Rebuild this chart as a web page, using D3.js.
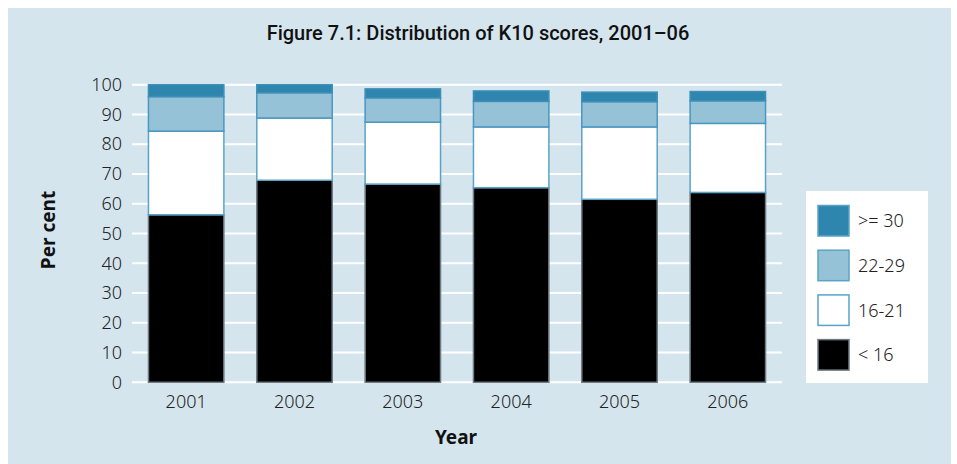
<!DOCTYPE html>
<html>
<head>
<meta charset="utf-8">
<script src="https://cdn.jsdelivr.net/npm/d3@7"></script>
<style>
  html, body { margin: 0; padding: 0; background: #ffffff; }
  svg { display: block; }
</style>
</head>
<body>
<svg id="chart" width="957" height="464"></svg>
<script>
// K10 score distribution by survey year (per cent of respondents)
const years = ["2001", "2002", "2003", "2004", "2005", "2006"];
const bandKeys = ["lt16", "s16to21", "s22to29", "ge30"];
const bandLabels = ["< 16", "16-21", "22-29", ">= 30"];
const lt16 = [56.3, 67.9, 66.6, 65.4, 61.5, 63.8];
const s16to21 = [28.1, 20.9, 20.8, 20.4, 24.3, 23.2];
const s22to29 = [11.6, 8.5, 8.2, 8.6, 8.5, 7.6];
const ge30 = [4.0, 2.7, 3.0, 3.5, 3.2, 3.1];
const yTicks = [0, 10, 20, 30, 40, 50, 60, 70, 80, 90, 100];

const fills = { lt16: "#000000", s16to21: "#ffffff", s22to29: "#96c2d7", ge30: "#2e86ae" };
const strokes = { lt16: "#6f7b82", s16to21: "#5aa3c8", s22to29: "#4a97c0", ge30: "#3d8fb8" };

const rows = years.map((y, i) => ({
  year: y, lt16: lt16[i], s16to21: s16to21[i], s22to29: s22to29[i], ge30: ge30[i]
}));

const svg = d3.select("#chart");
const bodyFont = "'Noto Sans', 'Open Sans', sans-serif";

// panel background
svg.append("rect").attr("x", 8).attr("y", 8).attr("width", 943).attr("height", 456)
  .attr("fill", "#d5e5ee");

svg.append("text")
  .attr("x", 478).attr("y", 40)
  .attr("text-anchor", "middle")
  .attr("font-family", "'Liberation Sans Narrow', 'Roboto', sans-serif")
  .attr("font-size", 20).attr("font-weight", 500)
  .attr("fill", "#111")
  .text("Figure 7.1: Distribution of K10 scores, 2001–06");

const x = d3.scaleBand().domain(years).range([132, 782])
  .paddingInner(0.29).paddingOuter(0.145);
const y = d3.scaleLinear().domain([0, 100]).range([382.3, 84.7]);

// gridlines
svg.append("g").selectAll("line").data(yTicks).join("line")
  .attr("x1", 132).attr("x2", 782)
  .attr("y1", d => y(d)).attr("y2", d => y(d))
  .attr("stroke", "#ffffff").attr("stroke-width", 2);

// y axis labels
const yAxis = svg.append("g").attr("transform", "translate(132,0)")
  .call(d3.axisLeft(y).tickValues(yTicks).tickSize(0).tickPadding(10));
yAxis.select(".domain").remove();
yAxis.selectAll("text")
  .attr("font-family", bodyFont).attr("font-size", 18).attr("font-weight", 300)
  .attr("fill", "#222");

// x axis labels
const xAxis = svg.append("g").attr("transform", "translate(0,383)")
  .call(d3.axisBottom(x).tickSize(0).tickPadding(12));
xAxis.select(".domain").remove();
xAxis.selectAll("text")
  .attr("font-family", bodyFont).attr("font-size", 18).attr("font-weight", 300)
  .attr("fill", "#222");

// stacked bars
const stacked = d3.stack().keys(bandKeys)(rows);
svg.append("g").selectAll("g").data(stacked).join("g")
  .each(function (layer) {
    d3.select(this).selectAll("rect").data(layer).join("rect")
      .attr("x", d => x(d.data.year) + 0.75)
      .attr("width", x.bandwidth() - 1.5)
      .attr("y", d => y(d[1]))
      .attr("height", d => y(d[0]) - y(d[1]))
      .attr("fill", fills[layer.key])
      .attr("stroke", strokes[layer.key])
      .attr("stroke-width", 1.5);
  });

// axis titles
svg.append("text")
  .attr("transform", "translate(55,230) rotate(-90)")
  .attr("text-anchor", "middle")
  .attr("font-family", bodyFont).attr("font-size", 19).attr("font-weight", 700)
  .attr("fill", "#111")
  .text("Per cent");

svg.append("text")
  .attr("x", 456).attr("y", 444)
  .attr("text-anchor", "middle")
  .attr("font-family", bodyFont).attr("font-size", 19).attr("font-weight", 700)
  .attr("fill", "#111")
  .text("Year");

// legend
svg.append("rect").attr("x", 806).attr("y", 191).attr("width", 122).attr("height", 192)
  .attr("fill", "#ffffff");
const legendOrder = ["ge30", "s22to29", "s16to21", "lt16"];
const legend = svg.append("g").selectAll("g").data(legendOrder).join("g")
  .attr("transform", (d, i) => `translate(818,${205.5 + i * 44.7})`);
legend.append("rect")
  .attr("width", 31).attr("height", 30.5)
  .attr("fill", d => fills[d])
  .attr("stroke", d => d === "lt16" ? "#6f7b82" : "#5aa3c8")
  .attr("stroke-width", 1.5);
legend.append("text")
  .attr("x", 40).attr("y", 15.5).attr("dy", "0.35em")
  .attr("font-family", bodyFont).attr("font-size", 18).attr("font-weight", 300)
  .attr("fill", "#222")
  .text(d => bandLabels[bandKeys.indexOf(d)]);
</script>
</body>
</html>
